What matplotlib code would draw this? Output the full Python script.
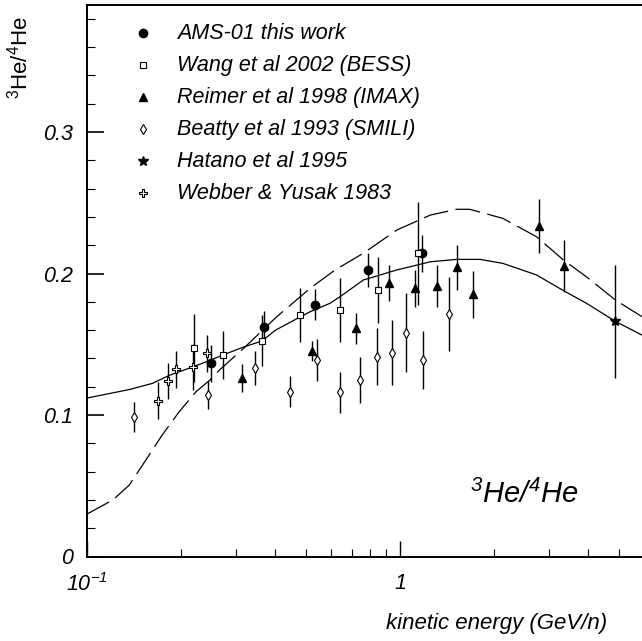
import numpy as np
import matplotlib
matplotlib.use('Agg')
import matplotlib.pyplot as plt
from matplotlib.ticker import MultipleLocator, LogLocator, NullFormatter

plt.rcParams['font.family'] = ['Liberation Sans', 'DejaVu Sans']

# AMS-01 (this work)
ams_x = [0.249, 0.367, 0.536, 0.792, 1.172]
ams_y = [0.1365, 0.1624, 0.178, 0.2025, 0.2143]
ams_err = [0.013, 0.011, 0.011, 0.012, 0.013]

# Wang et al 2002 (BESS)
bess_x = [0.220, 0.2715, 0.362, 0.480, 0.643, 0.853, 1.139]
bess_y = [0.1476, 0.1424, 0.1525, 0.1707, 0.1742, 0.1883, 0.2143]
bess_err = [0.024, 0.017, 0.018, 0.019, 0.0224, 0.0235, 0.0365]

# Reimer et al 1998 (IMAX)
imax_x = [0.3135, 0.5245, 0.722, 0.922, 1.117, 1.316, 1.517, 1.715, 2.78, 3.334]
imax_y = [0.1264, 0.1455, 0.1613, 0.1935, 0.1895, 0.1912, 0.2044, 0.1853, 0.2336, 0.2053]
imax_err = [0.010, 0.007, 0.011, 0.0127, 0.013, 0.0147, 0.0157, 0.0167, 0.019, 0.0186]

# Beatty et al 1993 (SMILI)
smili_x = [0.141, 0.2435, 0.345, 0.444, 0.544, 0.645, 0.745, 0.842, 0.9406, 1.042, 1.187, 1.434]
smili_y = [0.0988, 0.114, 0.1334, 0.1165, 0.1389, 0.116, 0.1247, 0.1412, 0.144, 0.1582, 0.1389, 0.1714]
smili_err = [0.0106, 0.010, 0.012, 0.011, 0.015, 0.0147, 0.016, 0.020, 0.023, 0.0277, 0.0206, 0.0265]

# Hatano et al 1995
hatano_x = [4.875]
hatano_y = [0.1662]
hatano_err = [0.0397]

# Webber & Yusak 1983
webber_x = [0.168, 0.182, 0.1925, 0.2176, 0.241]
webber_y = [0.110, 0.124, 0.1323, 0.134, 0.1436]
webber_err = [0.013, 0.013, 0.013, 0.0165, 0.013]

# model curves
solid_x = [0.1, 0.1365, 0.162, 0.183, 0.2176, 0.249, 0.2715, 0.316, 0.362, 0.40, 0.516, 0.598,
           0.643, 0.763, 0.976, 1.249, 1.517, 1.80, 2.13, 2.73, 3.33, 3.94, 4.875, 5.93]
solid_y = [0.112, 0.118, 0.1224, 0.128, 0.134, 0.1389, 0.1424, 0.148, 0.1523, 0.160, 0.173, 0.179,
           0.1836, 0.1954, 0.2025, 0.2083, 0.21, 0.21, 0.2072, 0.199, 0.1879, 0.179, 0.1662, 0.1565]
dashed_x = [0.1, 0.121, 0.1365, 0.154, 0.174, 0.197, 0.223, 0.247, 0.265, 0.316, 0.404, 0.516,
            0.62, 0.763, 0.976, 1.249, 1.517, 1.67, 2.13, 2.73, 3.33, 3.94, 4.875, 5.93]
dashed_y = [0.030, 0.040, 0.0505, 0.068, 0.086, 0.1023, 0.1165, 0.1247, 0.1318, 0.147, 0.1695, 0.1895,
            0.2025, 0.2143, 0.2307, 0.2413, 0.2454, 0.2454, 0.239, 0.226, 0.2095, 0.1977, 0.1813, 0.1695]

fig = plt.figure(figsize=(6.42, 6.41), dpi=100)
ax = fig.add_axes([87 / 642, 1 - 556.5 / 641, 555 / 642, 551.5 / 641])

ax.plot(solid_x, solid_y, color='black', lw=0.9)
ax.plot(dashed_x, dashed_y, color='black', lw=0.9, dashes=(20, 6))

series = [
    (ams_x, ams_y, ams_err, dict(marker='o', ms=6, mfc='black', mec='black'), 'AMS-01 this work'),
    (bess_x, bess_y, bess_err, dict(marker='s', ms=5, mfc='white', mec='black', mew=0.8), 'Wang et al 2002 (BESS)'),
    (imax_x, imax_y, imax_err, dict(marker='^', ms=5.5, mfc='black', mec='black'), 'Reimer et al 1998 (IMAX)'),
    (smili_x, smili_y, smili_err, dict(marker='d', ms=5, mfc='white', mec='black', mew=0.8), 'Beatty et al 1993 (SMILI)'),
    (hatano_x, hatano_y, hatano_err, dict(marker='*', ms=7, mfc='black', mec='black'), 'Hatano et al 1995'),
    (webber_x, webber_y, webber_err, dict(marker='P', ms=5.5, mfc='white', mec='black', mew=0.8), 'Webber & Yusak 1983'),
]

for x, y, err, style, label in series:
    ax.errorbar(x, y, yerr=err, fmt='none', ecolor='black', elinewidth=1.0, capsize=0, zorder=3)
    ax.plot(x, y, ls='none', zorder=4, **style)

# legend, drawn by hand
for i, (x, y, err, style, label) in enumerate(series):
    yy = 0.949 - i * 0.058
    ax.plot([0.101], [yy], ls='none', transform=ax.transAxes, clip_on=False, **style)
    ax.text(0.162, yy, label, transform=ax.transAxes, fontsize=15.5, style='italic',
            ha='left', va='center')

ax.text(0.69, 0.112, r'$\mathregular{^{3}}$He/$\mathregular{^{4}}$He', transform=ax.transAxes,
        fontsize=21, style='italic', ha='left', va='center')

ax.set_xscale('log')
ax.set_xlim(0.1, 5.93)
ax.set_ylim(0, 0.3898)

ax.set_xticks([0.1, 1], labels=[r'$\mathregular{10^{-1}}$', '1'])
ax.xaxis.set_minor_locator(LogLocator(base=10, subs=np.arange(2, 10)))
ax.xaxis.set_minor_formatter(NullFormatter())
ax.set_yticks([0, 0.1, 0.2, 0.3], labels=['0', '0.1', '0.2', '0.3'])
ax.yaxis.set_minor_locator(MultipleLocator(0.02))

ax.tick_params(axis='both', which='both', direction='in', top=False, right=False)
ax.tick_params(axis='y', which='major', length=12, width=1.2, pad=10, labelsize=15.5)
ax.tick_params(axis='y', which='minor', length=6, width=0.8)
ax.tick_params(axis='x', which='major', length=11.5, width=1.0, pad=12, labelsize=15.5)
ax.tick_params(axis='x', which='minor', length=5.5, width=0.8)
for lab in ax.get_xticklabels() + ax.get_yticklabels():
    lab.set_style('italic')

for side in ['left', 'bottom', 'top']:
    ax.spines[side].set_linewidth(1.4)
ax.spines['right'].set_visible(False)

ax.set_xlabel('kinetic energy (GeV/n)', fontsize=16, style='italic', ha='right', va='center')
ax.xaxis.set_label_coords(0.937, -0.1206)
ax.set_ylabel(r'$\mathregular{^{3}}$He/$\mathregular{^{4}}$He', fontsize=16, ha='center', va='center')
ax.yaxis.set_label_coords(-0.1207, 0.905)

fig.savefig('out.png', dpi=100)
